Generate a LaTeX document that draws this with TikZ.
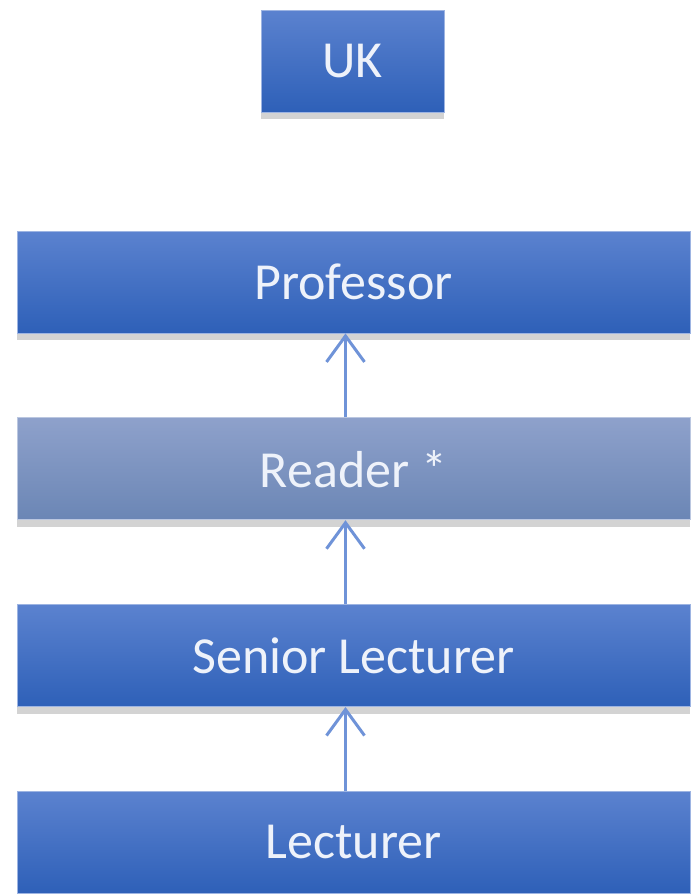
\documentclass[tikz,border=0pt]{standalone}
\usepackage{fontspec}
\setmainfont{Carlito}
\usetikzlibrary{positioning,shadows,arrows.meta}
\definecolor{rankTop}{HTML}{5B82CF}
\definecolor{rankBot}{HTML}{2E60B8}
\definecolor{readTop}{HTML}{8EA1CB}
\definecolor{readBot}{HTML}{6B86B5}
\definecolor{arrowBlue}{HTML}{6F93D8}
\definecolor{textWhite}{HTML}{EEF2FA}
\begin{document}
\begin{tikzpicture}
        [x=1pt,y=1pt,
         rank/.style={rectangle, top color=rankTop, bottom color=rankBot,
           draw=rankTop!60!white, line width=0.8pt, text=textWhite,
           font=\fontsize{52}{60}\selectfont, inner sep=0pt,
           minimum width=673pt, minimum height=102pt,
           drop shadow={shadow xshift=0pt, shadow yshift=-7pt, opacity=0.35}},
         rankfaded/.style={rank, top color=readTop, bottom color=readBot, draw=readTop!60!white},
         up/.style={-{Straight Barb[length=26pt,width=38pt]}, line width=3pt, arrowBlue},
         node distance=84pt]
        \useasboundingbox (0,0) rectangle (692,-894);

        \node[rank, minimum width=183pt] (uk) at (352.5,-61) {UK};
        \node[rank] (prof) at (353.5,-282) {Professor};
        \node[rankfaded, below=of prof] (reader) {Reader *};
        \node[rank, below=of reader] (senior) {Senior Lecturer};
        \node[rank, below=of senior] (lect) {Lecturer};

        \draw[up] ([xshift=-8pt]lect.north) -- ([xshift=-8pt]senior.south);
        \draw[up] ([xshift=-8pt]senior.north) -- ([xshift=-8pt]reader.south);
        \draw[up] ([xshift=-8pt]reader.north) -- ([xshift=-8pt]prof.south);
      \end{tikzpicture}
\end{document}
